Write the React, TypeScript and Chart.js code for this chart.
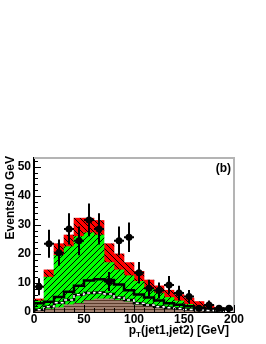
import React, { useEffect, useRef } from 'react';
import { Chart, registerables } from 'chart.js';

Chart.register(...registerables);

// ---- data ----
const binLow = [0, 10, 20, 30, 40, 50, 60, 70, 80, 90, 100, 110, 120, 130, 140, 150, 160, 170, 180, 190];
const BIN_W = 10;
const dataCounts = [8.7, 23.5, 20.4, 28.6, 24.5, 31.7, 28.6, 10.5, 24.5, 25.7, 13.5, 8.2, 7.4, 9.3, 6.5, 5.3, 1.3, 2.4, 1.3, 1.3];
const brownVals = [0.5, 1, 1.5, 2.5, 3, 4, 4.5, 4.5, 4, 3.5, 2.5, 2, 1.5, 1.2, 1, 0.7, 0.5, 0.3, 0.2, 0.2];
const greenVals = [3.3, 11, 18, 20, 23, 23.3, 22, 12.5, 10.5, 9, 8, 6, 5, 3.8, 2.8, 1.9, 1.3, 0.8, 0.4, 0.2];
const redVals = [0.7, 2.5, 4, 4, 6.3, 5, 5, 6.5, 5.5, 4.5, 3.5, 3, 2.5, 2.5, 2.2, 2.2, 1.8, 1.3, 0.9, 0.6];
const blackLine = [3, 3.5, 5.2, 7, 9, 10.8, 11.3, 11, 9.5, 7.5, 6, 5, 4, 3, 2.5, 2, 1.5, 1, 0.7, 0.5];
const dashedLine = [0.8, 1.8, 3.2, 4.1, 5.9, 6.5, 6.7, 6.2, 5, 4.1, 3, 2.4, 1.8, 1.5, 1.2, 0.9, 0.7, 0.5, 0.4, 0.3];
const yTicks = [0, 10, 20, 30, 40, 50];
const xTicks = [0, 50, 100, 150, 200];
const Y_MAX = 53;
const X_MAX = 200;
const Y_MINOR = 2;
const X_MINOR = 10;

const FONT_FAMILY = '"Liberation Sans", Arial, Helvetica, sans-serif';

function makePattern(bg: string, line: string, kind: 'back' | 'fwd' | 'horiz'): CanvasPattern | string {
  const c = document.createElement('canvas');
  const s = kind === 'horiz' ? 3 : 6;
  c.width = s;
  c.height = s;
  const g = c.getContext('2d');
  if (!g) return bg;
  g.fillStyle = bg;
  g.fillRect(0, 0, s, s);
  g.strokeStyle = line;
  g.lineWidth = 1;
  g.beginPath();
  if (kind === 'back') {
    g.moveTo(0, 0); g.lineTo(s, s);
    g.moveTo(-1, s - 1); g.lineTo(1, s + 1);
    g.moveTo(s - 1, -1); g.lineTo(s + 1, 1);
  } else if (kind === 'fwd') {
    g.moveTo(0, s); g.lineTo(s, 0);
    g.moveTo(-1, 1); g.lineTo(1, -1);
    g.moveTo(s - 1, s + 1); g.lineTo(s + 1, s - 1);
  } else {
    g.moveTo(0, 0.5); g.lineTo(s, 0.5);
  }
  g.stroke();
  const p = g.createPattern(c, 'repeat');
  return p || bg;
}

function stepPoints(vals: number[]) {
  const last = vals.length - 1;
  const pts = [{ x: binLow[0], y: 0 }];
  vals.forEach((v, i) => pts.push({ x: binLow[i], y: v }));
  pts.push({ x: binLow[last] + BIN_W, y: vals[last] });
  pts.push({ x: binLow[last] + BIN_W, y: 0 });
  return pts;
}

function barPoints(vals: number[]) {
  return vals.map((v, i) => ({ x: binLow[i] + BIN_W / 2, y: v }));
}

const decorPlugin = {
  id: 'decor',
  beforeDatasetDraw(chart: any, args: any) {
    const ds = chart.data.datasets[args.index];
    if (ds.label !== 'Data') return;
    const { ctx } = chart;
    const x = chart.scales.x;
    const y = chart.scales.y;
    ctx.save();
    ctx.strokeStyle = '#000';
    ctx.lineWidth = 2;
    dataCounts.forEach((n, i) => {
      const cx = x.getPixelForValue(binLow[i] + BIN_W / 2);
      const e = Math.sqrt(n);
      const cy = y.getPixelForValue(n);
      ctx.beginPath();
      ctx.moveTo(cx, y.getPixelForValue(Math.max(0, n - e)));
      ctx.lineTo(cx, y.getPixelForValue(n + e));
      ctx.moveTo(x.getPixelForValue(binLow[i]), cy);
      ctx.lineTo(x.getPixelForValue(binLow[i] + BIN_W), cy);
      ctx.stroke();
    });
    ctx.restore();
  },
  afterDraw(chart: any) {
    const { ctx, chartArea: a } = chart;
    const x = chart.scales.x;
    const y = chart.scales.y;
    ctx.save();
    // grey frame (top and right)
    ctx.strokeStyle = '#b4b4b4';
    ctx.lineWidth = 2;
    ctx.beginPath();
    ctx.moveTo(a.left, a.top);
    ctx.lineTo(a.right, a.top);
    ctx.lineTo(a.right, a.bottom);
    ctx.stroke();
    // inner ticks
    ctx.strokeStyle = '#000';
    ctx.lineWidth = 1;
    ctx.beginPath();
    for (let v = 0; v <= Y_MAX; v += Y_MINOR) {
      const py = Math.round(y.getPixelForValue(v)) + 0.5;
      const len = v % 10 === 0 ? 7 : 4;
      ctx.moveTo(a.left, py);
      ctx.lineTo(a.left + len, py);
    }
    for (let v = 0; v <= X_MAX; v += X_MINOR) {
      const px = Math.round(x.getPixelForValue(v)) + 0.5;
      const len = v % 50 === 0 ? 7 : 4;
      ctx.moveTo(px, a.bottom);
      ctx.lineTo(px, a.bottom - len);
    }
    ctx.stroke();
    // texts
    ctx.fillStyle = '#000';
    ctx.font = `bold 12px ${FONT_FAMILY}`;
    // (b)
    ctx.textAlign = 'right';
    ctx.textBaseline = 'alphabetic';
    ctx.fillText('(b)', a.right - 3, a.top + 14);
    // y title
    ctx.save();
    ctx.translate(14, a.top - 2);
    ctx.rotate(-Math.PI / 2);
    ctx.textAlign = 'right';
    ctx.textBaseline = 'alphabetic';
    ctx.fillText('Events/10 GeV', 0, 0);
    ctx.restore();
    // x title with subscript
    const main1 = 'p';
    const sub = 'T';
    const rest = '(jet1,jet2) [GeV]';
    ctx.textAlign = 'left';
    ctx.font = `bold 12px ${FONT_FAMILY}`;
    const w1 = ctx.measureText(main1).width;
    const w3 = ctx.measureText(rest).width;
    ctx.font = `bold 8px ${FONT_FAMILY}`;
    const w2 = ctx.measureText(sub).width;
    const baseY = a.bottom + 22;
    let sx = a.right - 5 - (w1 + w2 + w3);
    ctx.font = `bold 12px ${FONT_FAMILY}`;
    ctx.fillText(main1, sx, baseY);
    sx += w1;
    ctx.font = `bold 8px ${FONT_FAMILY}`;
    ctx.fillText(sub, sx, baseY + 3);
    sx += w2;
    ctx.font = `bold 12px ${FONT_FAMILY}`;
    ctx.fillText(rest, sx, baseY);
    ctx.restore();
  },
};

export default function App() {
  const ref = useRef<HTMLCanvasElement | null>(null);

  useEffect(() => {
    document.body.style.margin = '0';
    const canvas = ref.current;
    if (!canvas) return;
    const redPat = makePattern('#ff0000', '#000000', 'back');
    const greenPat = makePattern('#00ff00', '#000000', 'fwd');
    const brownPat = makePattern('#a08070', '#5a3a2a', 'horiz');

    const chart = new Chart(canvas, {
      type: 'bar',
      data: {
        datasets: [
          {
            type: 'scatter',
            label: 'Data',
            data: barPoints(dataCounts),
            pointRadius: 3.5,
            pointBackgroundColor: '#000',
            pointBorderColor: '#000',
            pointBorderWidth: 0,
            showLine: false,
            order: 0,
            stack: 'pts',
          } as any,
          {
            type: 'line',
            label: 'dashW',
            data: stepPoints(dashedLine),
            borderColor: '#ffffff',
            borderWidth: 1.5,
            borderDash: [3, 3],
            stepped: true,
            pointRadius: 0,
            fill: false,
            order: 1,
            stack: 'l1',
          } as any,
          {
            type: 'line',
            label: 'dashB',
            data: stepPoints(dashedLine),
            borderColor: '#000000',
            borderWidth: 2.5,
            stepped: true,
            pointRadius: 0,
            fill: false,
            order: 2,
            stack: 'l2',
          } as any,
          {
            type: 'line',
            label: 'solid',
            data: stepPoints(blackLine),
            borderColor: '#000000',
            borderWidth: 2.5,
            stepped: true,
            pointRadius: 0,
            fill: false,
            order: 3,
            stack: 'l3',
          } as any,
          {
            type: 'bar',
            label: 'brown',
            data: barPoints(brownVals),
            backgroundColor: brownPat,
            borderWidth: 0,
            barPercentage: 1,
            categoryPercentage: 1,
            order: 4,
            stack: 'mc',
          } as any,
          {
            type: 'bar',
            label: 'green',
            data: barPoints(greenVals),
            backgroundColor: greenPat,
            borderWidth: 0,
            barPercentage: 1,
            categoryPercentage: 1,
            order: 5,
            stack: 'mc',
          } as any,
          {
            type: 'bar',
            label: 'red',
            data: barPoints(redVals),
            backgroundColor: redPat,
            borderWidth: 0,
            barPercentage: 1,
            categoryPercentage: 1,
            order: 6,
            stack: 'mc',
          } as any,
        ],
      },
      options: {
        responsive: false,
        animation: false,
        devicePixelRatio: 1,
        events: [],
        layout: { padding: { left: 0, top: 158, right: 32, bottom: 0 } },
        plugins: { legend: { display: false }, tooltip: { enabled: false }, title: { display: false } },
        scales: {
          x: {
            type: 'linear',
            min: 0,
            max: X_MAX,
            offset: false,
            grid: { display: false, drawTicks: false, tickLength: 0 },
            border: { display: true, color: '#000', width: 2 },
            afterBuildTicks: (s: any) => { s.ticks = xTicks.map((v) => ({ value: v })); },
            afterFit: (s: any) => { s.height = 32; },
            ticks: {
              color: '#000',
              padding: 0,
              maxRotation: 0,
              autoSkip: false,
              font: { family: FONT_FAMILY, size: 12, weight: 'bold' },
              callback: (v: any) => String(v),
            },
          },
          y: {
            type: 'linear',
            min: 0,
            max: Y_MAX,
            stacked: true,
            grid: { display: false, drawTicks: false, tickLength: 0 },
            border: { display: true, color: '#000', width: 2 },
            afterBuildTicks: (s: any) => { s.ticks = yTicks.map((v) => ({ value: v })); },
            afterFit: (s: any) => { s.width = 34; },
            ticks: {
              color: '#000',
              padding: 3,
              font: { family: FONT_FAMILY, size: 12, weight: 'bold' },
              callback: (v: any) => String(v),
            },
          },
        },
      } as any,
      plugins: [decorPlugin],
    });
    return () => chart.destroy();
  }, []);

  return (
    <div style={{ position: 'absolute', left: 0, top: 0, width: 266, height: 344 }}>
      <canvas ref={ref} width={266} height={344} style={{ display: 'block' }} />
    </div>
  );
}
